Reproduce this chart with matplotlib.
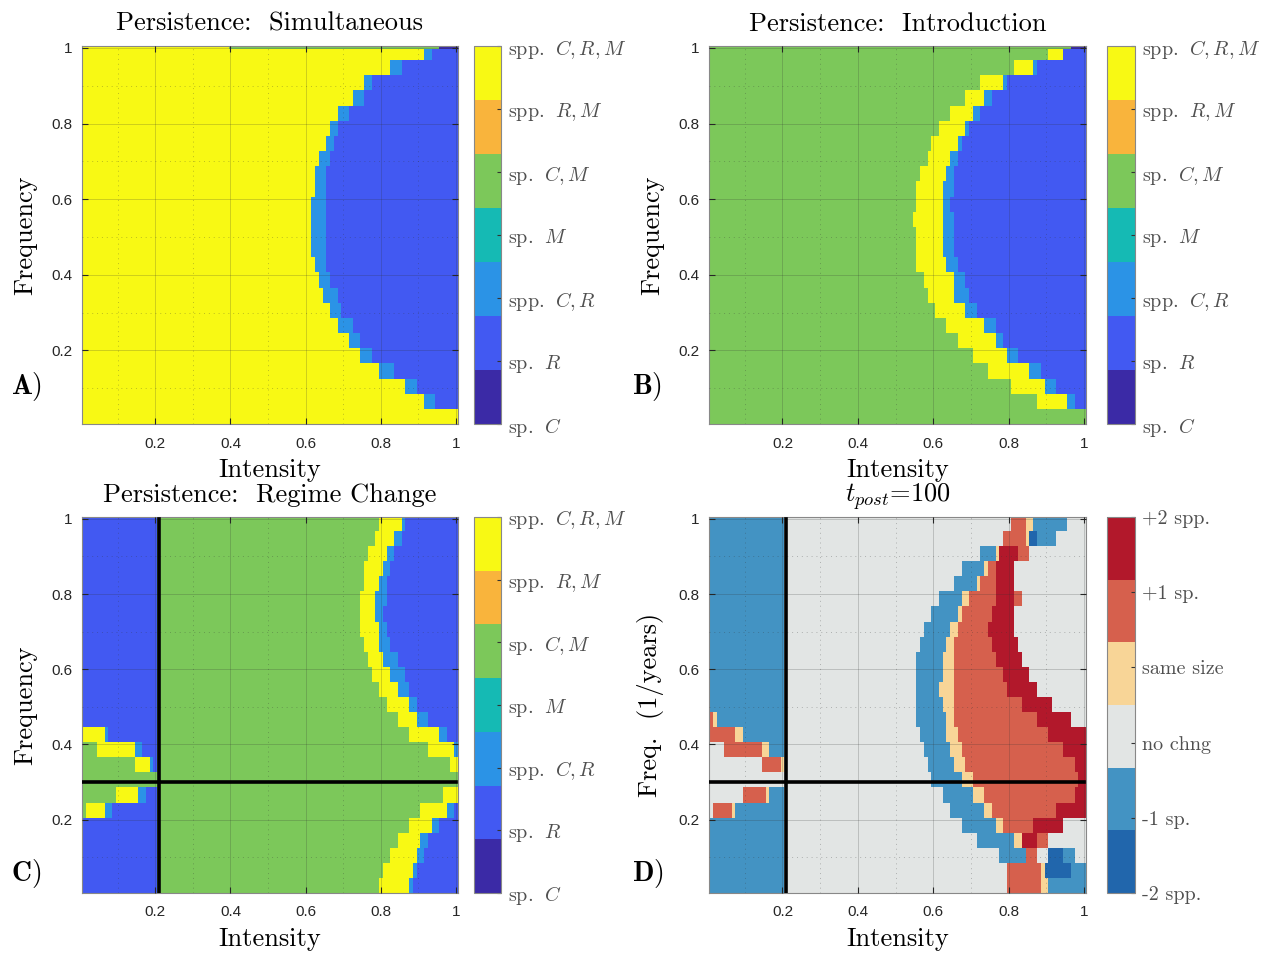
import numpy as np
import matplotlib
matplotlib.use("Agg")
import matplotlib.pyplot as plt
from matplotlib.colors import ListedColormap

plt.rcParams['mathtext.fontset'] = 'cm'
plt.rcParams['font.family'] = 'cmr10'
plt.rcParams['axes.unicode_minus'] = False

# simulation grid: intensity and frequency 0.01 .. 1.00
intensity = np.arange(1, 101) / 100
frequency = np.arange(1, 101) / 100
rows_per_band = 4          # boundaries below are read per band of 4 frequency rows (25 bands)

# persistence categories (colorbar bottom -> top)
C, R, CR, M, CM, RM, CRM = range(7)
persist_labels = [r'sp. $\;C$', r'sp. $\;R$', r'spp. $\;C,R$', r'sp. $\;M$',
                  r'sp. $\;C,M$', r'spp. $\;R,M$', r'spp. $\;C,R,M$']
persist_colors = ['#3b2aa6', '#4259f2', '#2b93e6', '#15bab4', '#7cc85a', '#f9b43c', '#f8f914']

# change categories (colorbar bottom -> top)
M2, M1, NO, SS, P1, P2 = range(6)
change_labels = ['-2 spp.', '-1 sp.', 'no chng', 'same size', '+1 sp.', '+2 spp.']
change_colors = ['#2166ac', '#4393c3', '#e2e5e4', '#f8d597', '#d6604d', '#b2182b']

regime_intensity = 0.21
regime_freq = 0.3

# ---- A) simultaneous: intensity where spp. C,R starts and where sp. R starts
A_cr_start = [1.1, 0.92, 0.87, 0.80, 0.75, 0.715, 0.69, 0.665, 0.645, 0.635, 0.625, 0.62, 0.62,
              0.62, 0.62, 0.625, 0.63, 0.635, 0.655, 0.665, 0.69, 0.73, 0.755, 0.83, 0.92]
A_r_start = [1.1, 0.95, 0.90, 0.84, 0.78, 0.745, 0.725, 0.70, 0.685, 0.665, 0.66, 0.655, 0.655,
             0.655, 0.655, 0.655, 0.66, 0.665, 0.675, 0.69, 0.715, 0.755, 0.78, 0.86, 0.94]
A_top_row = [(CRM, 0.40), (CM, 0.955), (C, 1.01)]

# ---- B) introduction: starts of spp. C,R,M / spp. C,R / sp. R
B_crm_start = [1.1, 0.88, 0.81, 0.75, 0.71, 0.67, 0.64, 0.605, 0.59, 0.575, 0.56, 0.555, 0.555,
               0.55, 0.555, 0.56, 0.57, 0.585, 0.60, 0.62, 0.65, 0.685, 0.73, 0.82, 0.91]
B_cr_start = [1.1, 0.955, 0.90, 0.86, 0.80, 0.765, 0.74, 0.69, 0.66, 0.655, 0.635, 0.63, 0.625,
              0.625, 0.625, 0.63, 0.64, 0.65, 0.665, 0.685, 0.71, 0.74, 0.785, 0.87, 0.95]
B_r_start = [1.1, 0.975, 0.93, 0.89, 0.83, 0.79, 0.765, 0.72, 0.70, 0.69, 0.665, 0.66, 0.655,
             0.655, 0.65, 0.655, 0.66, 0.67, 0.68, 0.70, 0.725, 0.755, 0.80, 0.88, 0.95]
B_top_row = [(CM, 0.965), (C, 1.01)]

# ---- C) regime change, left of the regime line (sp. C,M / spp. C,R,M / spp. C,R ends)
C_left_cm_end = [0, 0, 0, 0, 0, 0.02, 0.10, 0.21, 0.15, 0.05, 0, 0, 0,
                 0, 0, 0, 0, 0, 0, 0, 0, 0, 0, 0, 0]
C_left_crm_end = [0, 0, 0, 0, 0, 0.07, 0.16, 0.21, 0.19, 0.15, 0.07, 0, 0,
                  0, 0, 0, 0, 0, 0, 0, 0, 0, 0, 0, 0]
C_left_cr_end = [0, 0, 0, 0, 0, 0.085, 0.175, 0.21, 0.20, 0.17, 0.08, 0.01, 0,
                 0, 0, 0, 0, 0, 0, 0, 0, 0, 0, 0, 0]
# right of the regime line (starts of spp. C,R,M / spp. C,R / sp. R)
C_right_crm_start = [0.80, 0.81, 0.825, 0.85, 0.875, 0.91, 0.97, 1.1, 0.985, 0.93, 0.875, 0.845, 0.815,
                     0.795, 0.78, 0.765, 0.755, 0.75, 0.75, 0.75, 0.755, 0.76, 0.77, 0.785, 0.80]
C_right_cr_start = [0.875, 0.885, 0.895, 0.91, 0.935, 0.975, 1.1, 1.1, 1.1, 0.995, 0.955, 0.90, 0.875,
                    0.85, 0.83, 0.81, 0.80, 0.795, 0.79, 0.79, 0.80, 0.805, 0.815, 0.84, 0.855]
C_right_r_start = [0.89, 0.90, 0.915, 0.93, 0.955, 0.995, 1.1, 1.1, 1.1, 1.1, 0.98, 0.925, 0.90,
                   0.88, 0.865, 0.845, 0.83, 0.82, 0.81, 0.815, 0.815, 0.825, 0.835, 0.855, 0.87]

# ---- D) change after t_post = 100, segments (category, end intensity) per band
D_left_rows = {
    5: [(NO, 0.02), (P1, 0.07), (SS, 0.08), (M1, 0.21)],
    6: [(NO, 0.10), (P1, 0.16), (SS, 0.17), (M1, 0.21)],
    7: [(NO, 0.21)],
    8: [(NO, 0.15), (P1, 0.195), (SS, 0.205), (M1, 0.21)],
    9: [(NO, 0.05), (P1, 0.15), (SS, 0.17), (M1, 0.21)],
    10: [(P1, 0.08), (SS, 0.10), (M1, 0.21)],
    11: [(P1, 0.02), (SS, 0.03), (M1, 0.21)],
}
D_right_rows = [
    [(NO, 0.80), (P1, 0.885), (SS, 0.905), (M1, 1.01)],
    [(NO, 0.80), (P1, 0.885), (SS, 0.90), (M2, 0.97), (M1, 1.01)],
    [(NO, 0.78), (M1, 0.845), (P1, 0.875), (NO, 0.91), (M2, 0.95), (M1, 0.975), (NO, 1.01)],
    [(NO, 0.72), (M1, 0.815), (SS, 0.84), (P2, 0.88), (P1, 0.905), (NO, 1.01)],
    [(NO, 0.675), (M1, 0.765), (SS, 0.785), (P1, 0.865), (P2, 0.95), (NO, 1.01)],
    [(NO, 0.645), (M1, 0.735), (SS, 0.76), (P1, 0.93), (P2, 1.01)],
    [(NO, 0.625), (M1, 0.71), (SS, 0.74), (P1, 0.975), (P2, 1.01)],
    [(NO, 0.595), (M1, 0.675), (SS, 0.705), (P1, 0.99), (P2, 1.01)],
    [(NO, 0.583), (M1, 0.66), (SS, 0.685), (P1, 0.975), (P2, 1.01)],
    [(NO, 0.574), (M1, 0.65), (SS, 0.675), (P1, 0.945), (P2, 1.01)],
    [(NO, 0.565), (M1, 0.64), (SS, 0.665), (P1, 0.91), (P2, 1.01)],
    [(NO, 0.558), (M1, 0.635), (SS, 0.66), (P1, 0.875), (P2, 0.965), (NO, 1.01)],
    [(NO, 0.556), (M1, 0.63), (SS, 0.655), (P1, 0.84), (P2, 0.92), (NO, 1.01)],
    [(NO, 0.552), (M1, 0.62), (SS, 0.655), (P1, 0.80), (P2, 0.875), (NO, 1.01)],
    [(NO, 0.552), (M1, 0.622), (SS, 0.653), (P1, 0.786), (P2, 0.857), (NO, 1.01)],
    [(NO, 0.56), (M1, 0.627), (SS, 0.653), (P1, 0.768), (P2, 0.84), (NO, 1.01)],
    [(NO, 0.565), (M1, 0.636), (SS, 0.658), (P1, 0.76), (P2, 0.83), (NO, 1.01)],
    [(NO, 0.574), (M1, 0.645), (SS, 0.662), (P1, 0.75), (P2, 0.82), (NO, 1.01)],
    [(NO, 0.595), (M1, 0.665), (SS, 0.68), (P1, 0.755), (P2, 0.815), (NO, 1.01)],
    [(NO, 0.62), (M1, 0.68), (SS, 0.70), (P1, 0.765), (P2, 0.815), (P1, 0.84), (NO, 1.01)],
    [(NO, 0.655), (M1, 0.715), (SS, 0.73), (P1, 0.77), (P2, 0.82), (NO, 1.01)],
    [(NO, 0.675), (M1, 0.735), (SS, 0.75), (P1, 0.765), (P2, 0.82), (NO, 1.01)],
    [(NO, 0.73), (M1, 0.765), (SS, 0.775), (P2, 0.83), (P1, 0.855), (NO, 1.01)],
    [(NO, 0.79), (P1, 0.845), (SS, 0.855), (M2, 0.88), (M1, 0.93), (NO, 1.01)],
    [(NO, 0.81), (P1, 0.85), (SS, 0.87), (M1, 0.955), (NO, 1.01)],
]


def paint(grid, rows, segments, start=0.0):
    lo = start
    for code, end in segments:
        cols = (intensity + 1e-9 >= lo) & (intensity + 1e-9 < end)
        grid[rows, cols] = code
        lo = end


def band(k):
    return slice(k * rows_per_band, (k + 1) * rows_per_band)


grid_a = np.full((100, 100), CRM)
grid_b = np.full((100, 100), CM)
grid_c = np.full((100, 100), CM)
grid_d = np.full((100, 100), NO)
for k in range(25):
    paint(grid_a, band(k), [(CRM, A_cr_start[k]), (CR, A_r_start[k]), (R, 1.01)])
    paint(grid_b, band(k), [(CM, B_crm_start[k]), (CRM, B_cr_start[k]), (CR, B_r_start[k]), (R, 1.01)])
    paint(grid_c, band(k), [(CM, C_left_cm_end[k]), (CRM, C_left_crm_end[k]),
                            (CR, C_left_cr_end[k]), (R, regime_intensity)])
    paint(grid_c, band(k), [(CM, C_right_crm_start[k]), (CRM, C_right_cr_start[k]),
                            (CR, C_right_r_start[k]), (R, 1.01)], start=regime_intensity)
    paint(grid_d, band(k), D_left_rows.get(k, [(M1, regime_intensity)]))
    paint(grid_d, band(k), D_right_rows[k], start=regime_intensity)
paint(grid_a, 99, A_top_row)
paint(grid_b, 99, B_top_row)

fig = plt.figure(figsize=(12.71, 9.57), dpi=100)


def draw_panel(pos, cpos, grid, colors, labels, title, ylabel, letter, lpos, lines=False):
    ax = fig.add_axes(pos)
    cax = fig.add_axes(cpos)
    n = len(colors)
    im = ax.imshow(grid, origin='lower', extent=[0.005, 1.005, 0.005, 1.005], aspect='auto',
                   cmap=ListedColormap(colors), vmin=-0.5, vmax=n - 0.5, interpolation='nearest')
    if lines:
        ax.plot([regime_intensity, regime_intensity], [0.005, 1.0], color='k', lw=2.6, zorder=5)
        ax.plot([0.005, 1.0], [regime_freq, regime_freq], color='k', lw=2.6, zorder=5)
    ax.set_xlim(0.005, 1.005)
    ax.set_ylim(0.005, 1.005)
    ticks = [0.2, 0.4, 0.6, 0.8, 1.0]
    ax.set_xticks(ticks)
    ax.set_yticks(ticks)
    ax.set_xticklabels(['0.2', '0.4', '0.6', '0.8', '1'], family='Liberation Sans')
    ax.set_yticklabels(['0.2', '0.4', '0.6', '0.8', '1'], family='Liberation Sans')
    ax.set_xticks([0.1, 0.3, 0.5, 0.7, 0.9], minor=True)
    ax.set_yticks([0.1, 0.3, 0.5, 0.7, 0.9], minor=True)
    ax.tick_params(which='major', direction='in', top=True, right=True, length=4,
                   labelsize=11, colors='#262626')
    ax.tick_params(axis='x', which='major', pad=9)
    ax.tick_params(axis='y', which='major', pad=7)
    ax.tick_params(which='minor', length=0)
    ax.grid(which='major', color='#333333', alpha=0.22, lw=0.7)
    ax.grid(which='minor', color='#333333', alpha=0.3, lw=0.7, ls=(0, (1, 4)))
    ax.set_axisbelow(False)
    for s in ax.spines.values():
        s.set_color('#888888')
        s.set_linewidth(0.8)
    ax.set_title(title, fontsize=19, pad=11)
    ax.set_xlabel('Intensity', fontsize=19)
    ax.xaxis.set_label_coords(0.5, -0.09)
    ax.set_ylabel(ylabel, fontsize=19)
    ax.yaxis.set_label_coords(-0.118, 0.5)

    cb = fig.colorbar(im, cax=cax, ticks=np.linspace(-0.5, n - 0.5, n))
    cb.ax.set_yticklabels(labels)
    cb.ax.tick_params(direction='in', length=3, width=0.8, color='#333333',
                      labelsize=14.5, labelcolor='#505050', pad=5)
    cb.outline.set_edgecolor('#888888')
    cb.outline.set_linewidth(0.8)
    fig.text(lpos[0], lpos[1], letter, fontsize=20, va='center', ha='left')
    return ax


draw_panel([0.0645, 0.5569, 0.2958, 0.3950], [0.3729, 0.5569, 0.0212, 0.3950], grid_a,
           persist_colors, persist_labels, 'Persistence:  Simultaneous', 'Frequency',
           r'$\mathbf{A})$', (0.009, 0.596))
draw_panel([0.5578, 0.5569, 0.2966, 0.3950], [0.8710, 0.5569, 0.0220, 0.3950], grid_b,
           persist_colors, persist_labels, 'Persistence:  Introduction', 'Frequency',
           r'$\mathbf{B})$', (0.497, 0.596))
draw_panel([0.0645, 0.0669, 0.2958, 0.3929], [0.3729, 0.0669, 0.0212, 0.3929], grid_c,
           persist_colors, persist_labels, 'Persistence:  Regime Change', 'Frequency',
           r'$\mathbf{C})$', (0.009, 0.087), lines=True)
draw_panel([0.5578, 0.0669, 0.2966, 0.3929], [0.8710, 0.0669, 0.0220, 0.3929], grid_d,
           change_colors, change_labels, r'$t_{post}$=100', r'Freq.  (1/years)',
           r'$\mathbf{D})$', (0.497, 0.087), lines=True)

fig.savefig('out.png', dpi=100)
